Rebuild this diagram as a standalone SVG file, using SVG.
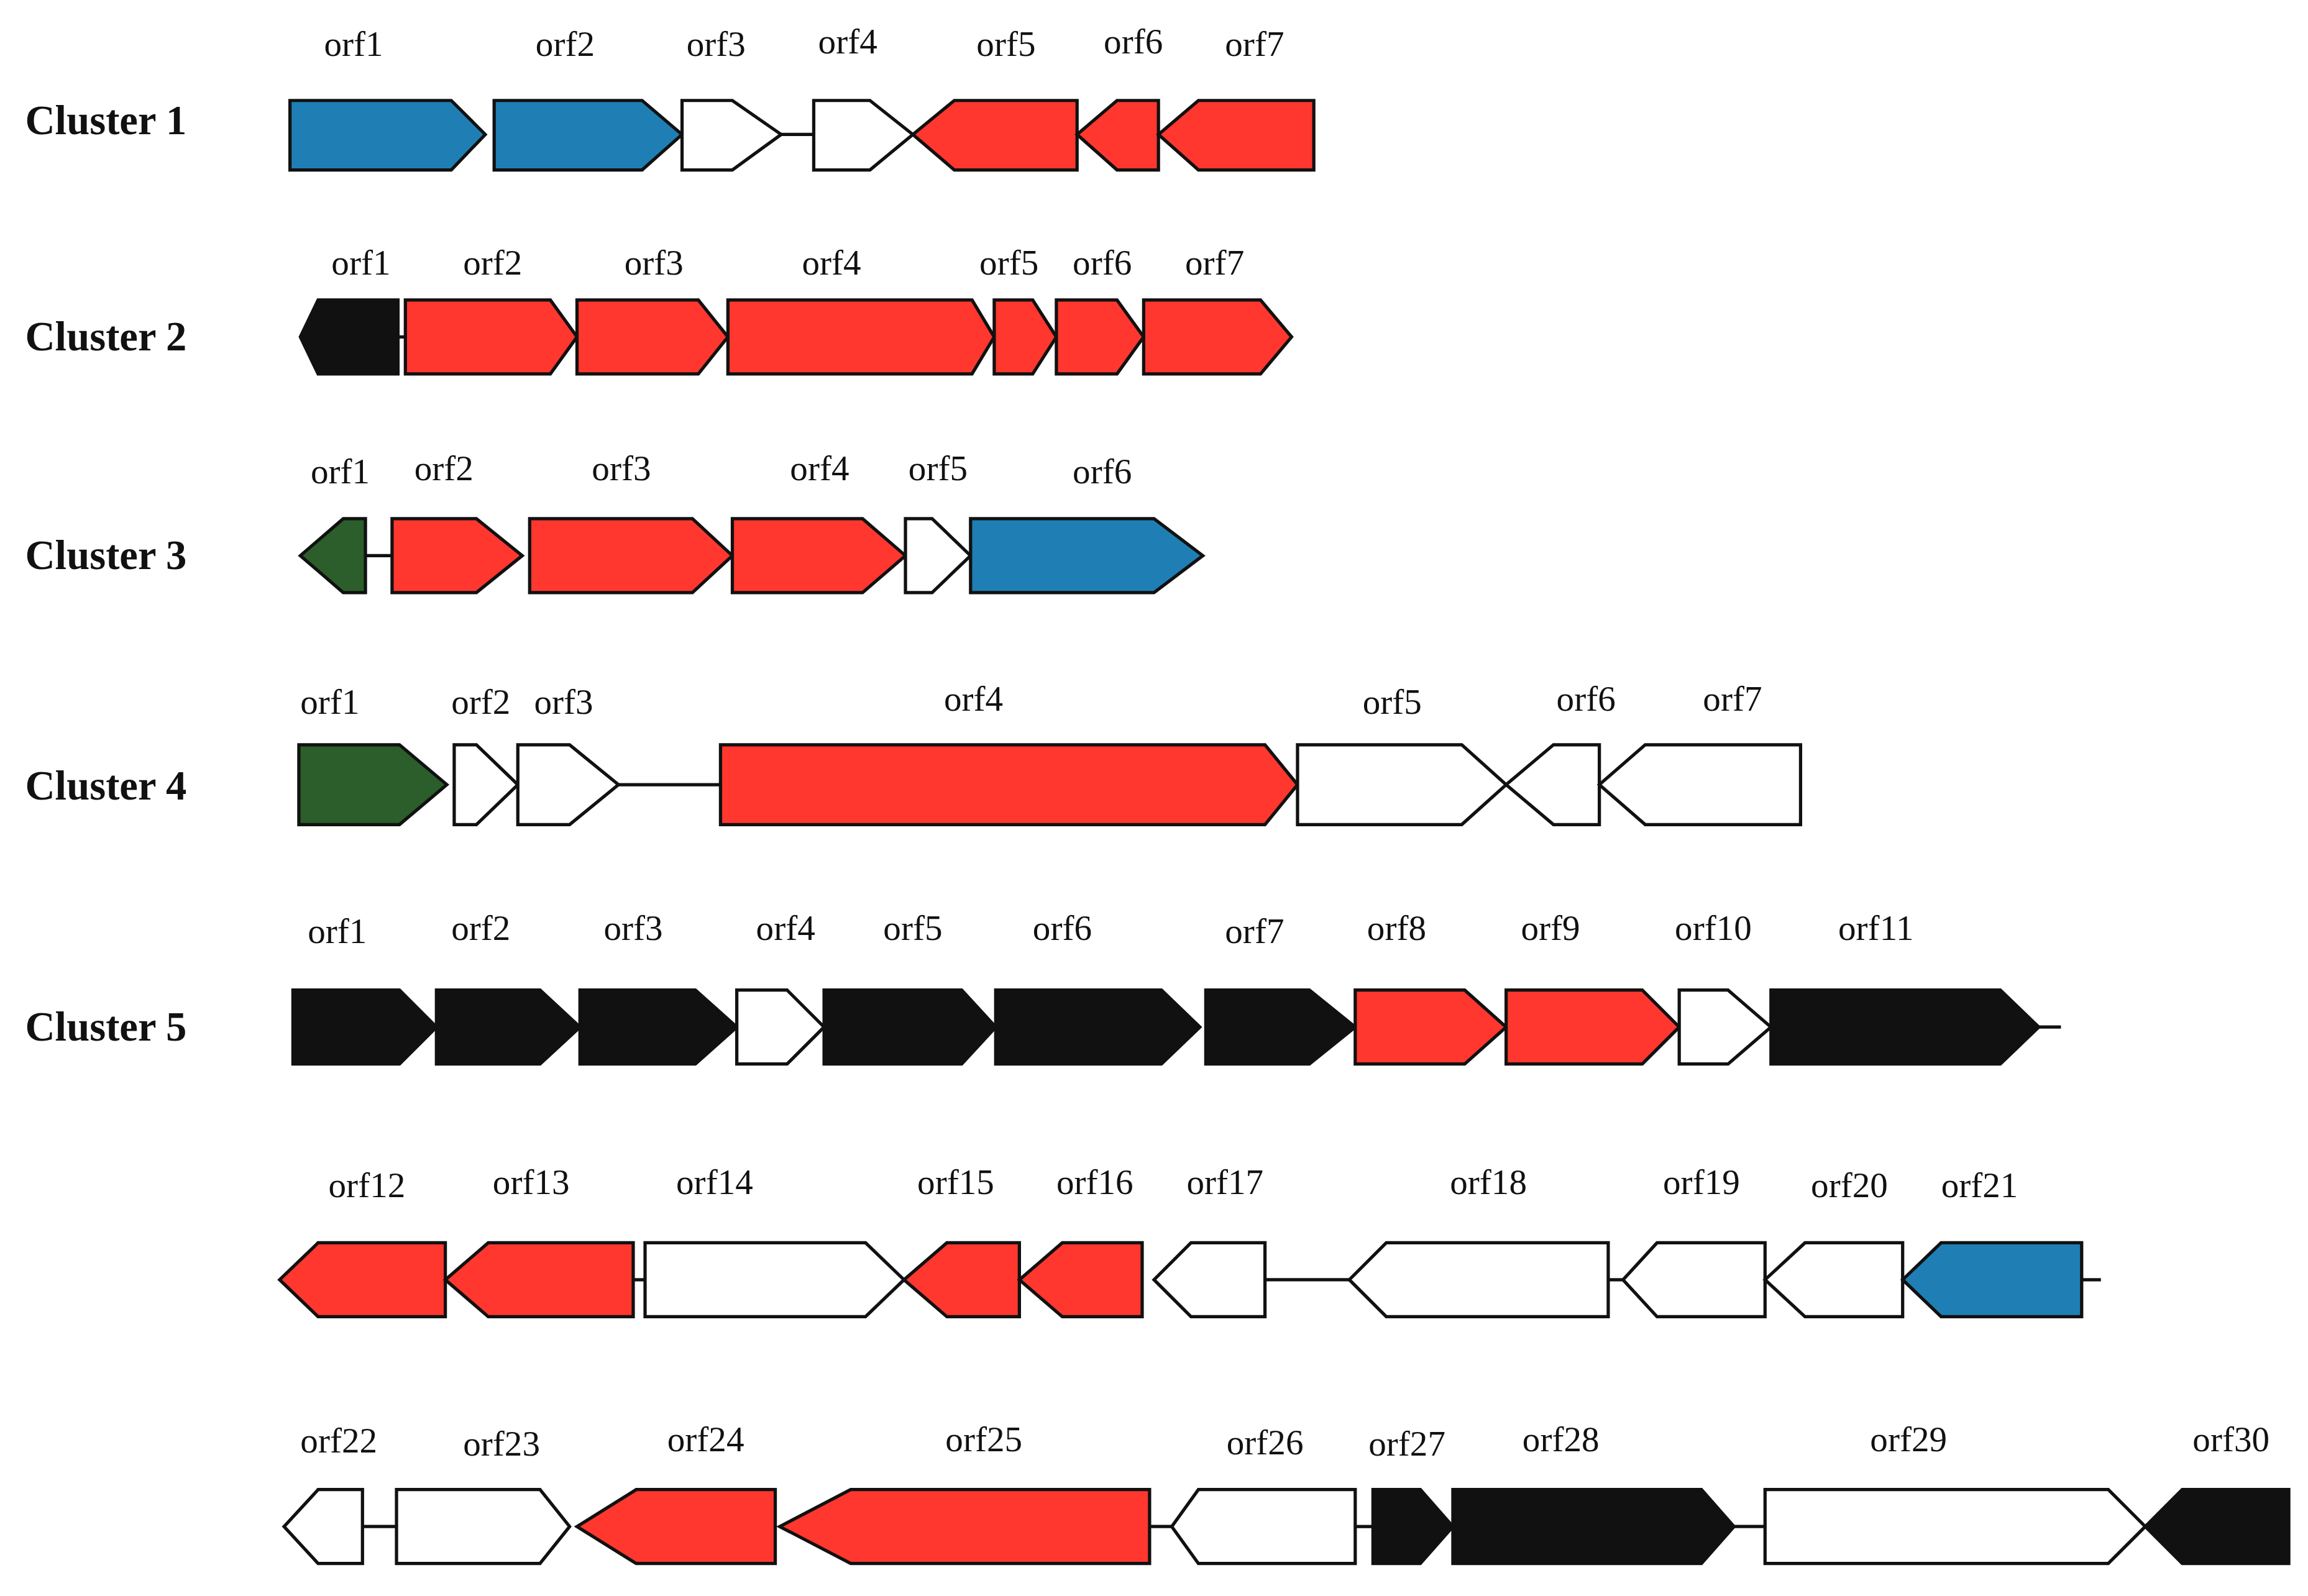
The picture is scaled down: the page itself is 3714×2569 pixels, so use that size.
<svg xmlns="http://www.w3.org/2000/svg" width="3714" height="2569" viewBox="0 0 3714 2569">
<style>
.g{stroke:#111;stroke-width:2.2;stroke-linejoin:miter}
.b{fill:#1f7fb4}.r{fill:#ff372f}.w{fill:#fff}.k{fill:#111}.n{fill:#2b5e2a}
.l{stroke:#111;stroke-width:2.2}
text{font-family:"Liberation Serif",serif;fill:#111}
.o{font-size:24px;text-anchor:middle}
.c{font-size:28px;font-weight:bold}
</style>
<rect width="3714" height="2569" fill="#fff"/>
<g transform="scale(2.3808,2.3787)">
<g id="labels">
<text class="c" x="17" y="91">Cluster 1</text>
<text class="c" x="17" y="237">Cluster 2</text>
<text class="c" x="17" y="385">Cluster 3</text>
<text class="c" x="17" y="541">Cluster 4</text>
<text class="c" x="17" y="704">Cluster 5</text>
</g>
<g id="connectors">
<line class="l" x1="528" y1="91" x2="550" y2="91"/>
<line class="l" x1="269" y1="228" x2="274" y2="228"/>
<line class="l" x1="247" y1="376" x2="265" y2="376"/>
<line class="l" x1="418" y1="531" x2="487" y2="531"/>
<line class="l" x1="1378" y1="695" x2="1393" y2="695"/>
<line class="l" x1="428" y1="866" x2="436" y2="866"/>
<line class="l" x1="855" y1="866" x2="912" y2="866"/>
<line class="l" x1="1087" y1="866" x2="1097" y2="866"/>
<line class="l" x1="1407" y1="866" x2="1420" y2="866"/>
<line class="l" x1="245" y1="1033" x2="268" y2="1033"/>
<line class="l" x1="777" y1="1033" x2="792" y2="1033"/>
<line class="l" x1="916" y1="1033" x2="928" y2="1033"/>
<line class="l" x1="1172" y1="1033" x2="1193" y2="1033"/>
</g>
<g id="cluster1">
<polygon class="g b" points="196,68 305,68 328,91 305,115 196,115"/>
<polygon class="g b" points="334,68 434,68 461,91 434,115 334,115"/>
<polygon class="g w" points="461,68 495,68 528,91 495,115 461,115"/>
<polygon class="g w" points="550,68 588,68 617,91 588,115 550,115"/>
<polygon class="g r" points="728,68 645,68 617,91 645,115 728,115"/>
<polygon class="g r" points="783,68 755,68 728,91 755,115 783,115"/>
<polygon class="g r" points="888,68 810,68 783,91 810,115 888,115"/>
<text class="o" x="239" y="38">orf1</text><text class="o" x="382" y="38">orf2</text><text class="o" x="484" y="38">orf3</text><text class="o" x="573" y="36">orf4</text><text class="o" x="680" y="38">orf5</text><text class="o" x="766" y="36">orf6</text><text class="o" x="848" y="38">orf7</text>
</g>
<g id="cluster2">
<polygon class="g k" points="269,203 215,203 203,228 215,253 269,253"/>
<polygon class="g r" points="274,203 372,203 390,228 372,253 274,253"/>
<polygon class="g r" points="390,203 472,203 492,228 472,253 390,253"/>
<polygon class="g r" points="492,203 657,203 672,228 657,253 492,253"/>
<polygon class="g r" points="672,203 698,203 714,228 698,253 672,253"/>
<polygon class="g r" points="714,203 755,203 773,228 755,253 714,253"/>
<polygon class="g r" points="773,203 852,203 873,228 852,253 773,253"/>
<text class="o" x="244" y="186">orf1</text><text class="o" x="333" y="186">orf2</text><text class="o" x="442" y="186">orf3</text><text class="o" x="562" y="186">orf4</text><text class="o" x="682" y="186">orf5</text><text class="o" x="745" y="186">orf6</text><text class="o" x="821" y="186">orf7</text>
</g>
<g id="cluster3">
<polygon class="g n" points="247,351 232,351 203,376 232,401 247,401"/>
<polygon class="g r" points="265,351 322,351 353,376 322,401 265,401"/>
<polygon class="g r" points="358,351 468,351 495,376 468,401 358,401"/>
<polygon class="g r" points="495,351 583,351 612,376 583,401 495,401"/>
<polygon class="g w" points="612,351 630,351 656,376 630,401 612,401"/>
<polygon class="g b" points="656,351 780,351 813,376 780,401 656,401"/>
<text class="o" x="230" y="327">orf1</text><text class="o" x="300" y="325">orf2</text><text class="o" x="420" y="325">orf3</text><text class="o" x="554" y="325">orf4</text><text class="o" x="634" y="325">orf5</text><text class="o" x="745" y="327">orf6</text>
</g>
<g id="cluster4">
<polygon class="g n" points="202,504 270,504 302,531 270,558 202,558"/>
<polygon class="g w" points="307,504 322,504 350,531 322,558 307,558"/>
<polygon class="g w" points="350,504 385,504 418,531 385,558 350,558"/>
<polygon class="g r" points="487,504 855,504 877,531 855,558 487,558"/>
<polygon class="g w" points="877,504 988,504 1018,531 988,558 877,558"/>
<polygon class="g w" points="1081,504 1050,504 1018,531 1050,558 1081,558"/>
<polygon class="g w" points="1217,504 1112,504 1081,531 1112,558 1217,558"/>
<text class="o" x="223" y="483">orf1</text><text class="o" x="325" y="483">orf2</text><text class="o" x="381" y="483">orf3</text><text class="o" x="658" y="481">orf4</text><text class="o" x="941" y="483">orf5</text><text class="o" x="1072" y="481">orf6</text><text class="o" x="1171" y="481">orf7</text>
</g>
<g id="cluster5">
<polygon class="g k" points="198,670 270,670 295,695 270,720 198,720"/>
<polygon class="g k" points="295,670 365,670 392,695 365,720 295,720"/>
<polygon class="g k" points="392,670 470,670 498,695 470,720 392,720"/>
<polygon class="g w" points="498,670 532,670 557,695 532,720 498,720"/>
<polygon class="g k" points="557,670 650,670 673,695 650,720 557,720"/>
<polygon class="g k" points="673,670 785,670 811,695 785,720 673,720"/>
<polygon class="g k" points="815,670 885,670 916,695 885,720 815,720"/>
<polygon class="g r" points="916,670 990,670 1018,695 990,720 916,720"/>
<polygon class="g r" points="1018,670 1110,670 1135,695 1110,720 1018,720"/>
<polygon class="g w" points="1135,670 1168,670 1197,695 1168,720 1135,720"/>
<polygon class="g k" points="1197,670 1352,670 1378,695 1352,720 1197,720"/>
<text class="o" x="228" y="638">orf1</text><text class="o" x="325" y="636">orf2</text><text class="o" x="428" y="636">orf3</text><text class="o" x="531" y="636">orf4</text><text class="o" x="617" y="636">orf5</text><text class="o" x="718" y="636">orf6</text><text class="o" x="848" y="638">orf7</text><text class="o" x="944" y="636">orf8</text><text class="o" x="1048" y="636">orf9</text><text class="o" x="1158" y="636">orf10</text><text class="o" x="1268" y="636">orf11</text>
<polygon class="g r" points="301,841 215,841 189,866 215,891 301,891"/>
<polygon class="g r" points="428,841 330,841 301,866 330,891 428,891"/>
<polygon class="g w" points="436,841 585,841 611,866 585,891 436,891"/>
<polygon class="g r" points="689,841 640,841 611,866 640,891 689,891"/>
<polygon class="g r" points="772,841 718,841 689,866 718,891 772,891"/>
<polygon class="g w" points="855,841 805,841 780,866 805,891 855,891"/>
<polygon class="g w" points="1087,841 937,841 912,866 937,891 1087,891"/>
<polygon class="g w" points="1193,841 1120,841 1097,866 1120,891 1193,891"/>
<polygon class="g w" points="1286,841 1220,841 1193,866 1220,891 1286,891"/>
<polygon class="g b" points="1407,841 1312,841 1286,866 1312,891 1407,891"/>
<text class="o" x="248" y="810">orf12</text><text class="o" x="359" y="808">orf13</text><text class="o" x="483" y="808">orf14</text><text class="o" x="646" y="808">orf15</text><text class="o" x="740" y="808">orf16</text><text class="o" x="828" y="808">orf17</text><text class="o" x="1006" y="808">orf18</text><text class="o" x="1150" y="808">orf19</text><text class="o" x="1250" y="810">orf20</text><text class="o" x="1338" y="810">orf21</text>
<polygon class="g w" points="245,1008 215,1008 192,1033 215,1058 245,1058"/>
<polygon class="g w" points="268,1008 365,1008 385,1033 365,1058 268,1058"/>
<polygon class="g r" points="524,1008 430,1008 390,1033 430,1058 524,1058"/>
<polygon class="g r" points="777,1008 575,1008 527,1033 575,1058 777,1058"/>
<polygon class="g w" points="916,1008 810,1008 792,1033 810,1058 916,1058"/>
<polygon class="g k" points="928,1008 960,1008 982,1033 960,1058 928,1058"/>
<polygon class="g k" points="982,1008 1150,1008 1172,1033 1150,1058 982,1058"/>
<polygon class="g w" points="1193,1008 1425,1008 1450,1033 1425,1058 1193,1058"/>
<polygon class="g k" points="1547,1008 1475,1008 1450,1033 1475,1058 1547,1058"/>
<text class="o" x="229" y="983">orf22</text><text class="o" x="339" y="985">orf23</text><text class="o" x="477" y="982">orf24</text><text class="o" x="665" y="982">orf25</text><text class="o" x="855" y="984">orf26</text><text class="o" x="951" y="985">orf27</text><text class="o" x="1055" y="982">orf28</text><text class="o" x="1290" y="982">orf29</text><text class="o" x="1508" y="982">orf30</text>
</g>
</g>
</svg>
